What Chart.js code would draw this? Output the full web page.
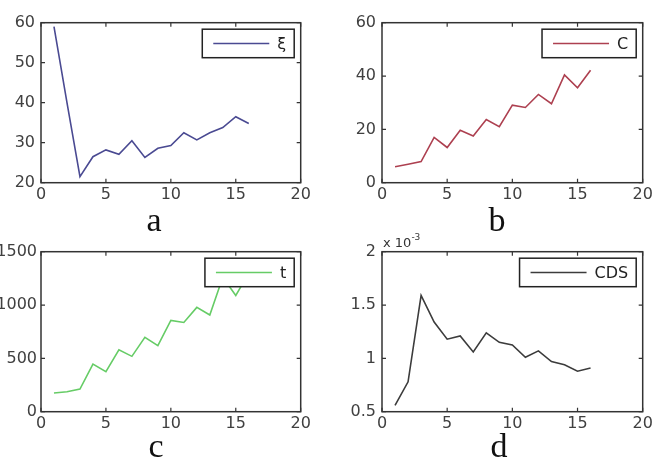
<!DOCTYPE html>
<html>
<head>
<meta charset="utf-8">
<script src="https://cdn.jsdelivr.net/npm/chart.js@4.4.0/dist/chart.umd.min.js"></script>
<style>
html,body{margin:0;padding:0;background:#fff;}
#wrap{position:relative;width:662px;height:458px;overflow:hidden;background:#fff;}
.pane{position:absolute;width:331px;height:229px;}
.pane canvas{display:block;}
.sub{position:absolute;font-family:"Liberation Serif","Times New Roman",serif;font-size:34px;line-height:34px;color:#111;transform:translateX(-50%);white-space:nowrap;}
.exp{position:absolute;font-family:"DejaVu Sans",sans-serif;font-size:13px;line-height:13px;color:#333;white-space:nowrap;}
.exp sup{font-size:9px;position:relative;top:-2px;}
</style>
</head>
<body>
<div id="wrap">
  <div class="pane" style="left:0;top:0"><canvas id="chartA" width="331" height="229"></canvas></div>
  <div class="pane" style="left:331px;top:0"><canvas id="chartB" width="331" height="229"></canvas></div>
  <div class="pane" style="left:0;top:229px"><canvas id="chartC" width="331" height="229"></canvas></div>
  <div class="pane" style="left:331px;top:229px"><canvas id="chartD" width="331" height="229"></canvas></div>
  <div class="sub" style="left:154px;top:203px">a</div>
  <div class="sub" style="left:497px;top:203px">b</div>
  <div class="sub" style="left:156px;top:429px">c</div>
  <div class="sub" style="left:499px;top:429px">d</div>
  <div class="exp" style="left:383px;top:233px">x 10<sup>-3</sup></div>
</div>
<script>
// ---- data ----
const iterations = [1, 2, 3, 4, 5, 6, 7, 8, 9, 10, 11, 12, 13, 14, 15, 16];
const xiValues  = [59, 40, 21.5, 26.5, 28.2, 27.1, 30.5, 26.3, 28.6, 29.3, 32.5, 30.7, 32.5, 33.8, 36.5, 34.8];
const cValues   = [6, 6.9, 7.9, 17, 13.2, 19.7, 17.5, 23.7, 21, 29.1, 28.2, 33.1, 29.6, 40.4, 35.6, 42.2];
const tValues   = [175, 187, 212, 447, 375, 581, 519, 697, 619, 856, 837, 978, 906, 1260, 1090, 1300];
const cdsValues = [0.56, 0.78, 1.59, 1.34, 1.18, 1.21, 1.06, 1.24, 1.15, 1.125, 1.01, 1.07, 0.97, 0.94, 0.88, 0.91]; // in units of 10^-3

const xTicks   = [0, 5, 10, 15, 20];
const xiTicks  = [20, 30, 40, 50, 60];
const cTicks   = [0, 20, 40, 60];
const tTicks   = [0, 500, 1000, 1500];
const cdsTicks = [0.5, 1, 1.5, 2];

// ---- drawing ----
const tickFont = {family: '"DejaVu Sans", sans-serif', size: 16};
const tickColor = '#404040';

const framePlugin = {
  id: 'frame',
  afterDraw(chart) {
    const {ctx, chartArea: a, scales: {x, y}} = chart;
    ctx.save();
    ctx.strokeStyle = '#333';
    ctx.lineWidth = 1.5;
    ctx.strokeRect(a.left, a.top, a.width, a.height);
    ctx.lineWidth = 1.2;
    ctx.beginPath();
    const tl = 4;
    x.ticks.forEach(t => {
      const px = x.getPixelForValue(t.value);
      ctx.moveTo(px, a.bottom); ctx.lineTo(px, a.bottom - tl);
      ctx.moveTo(px, a.top); ctx.lineTo(px, a.top + tl);
    });
    y.ticks.forEach(t => {
      const py = y.getPixelForValue(t.value);
      ctx.moveTo(a.left, py); ctx.lineTo(a.left + tl, py);
      ctx.moveTo(a.right, py); ctx.lineTo(a.right - tl, py);
    });
    ctx.stroke();

    // boxed legend in the upper right of the plot area
    const ds = chart.data.datasets[0];
    ctx.font = '16px "DejaVu Sans", sans-serif';
    const tw = ctx.measureText(ds.label).width;
    const padL = 11, lineLen = 56, gap = 8, padR = 8, h = 28.5;
    const w = padL + lineLen + gap + tw + padR;
    const bx = a.right - 6.5 - w, by = a.top + 6.5;
    ctx.fillStyle = '#fff';
    ctx.fillRect(bx, by, w, h);
    ctx.strokeStyle = '#222';
    ctx.lineWidth = 1.5;
    ctx.strokeRect(bx, by, w, h);
    const my = by + h / 2;
    ctx.strokeStyle = ds.borderColor;
    ctx.lineWidth = 1.6;
    ctx.beginPath();
    ctx.moveTo(bx + padL, my); ctx.lineTo(bx + padL + lineLen, my);
    ctx.stroke();
    ctx.fillStyle = '#222';
    ctx.textBaseline = 'middle';
    ctx.textAlign = 'left';
    ctx.fillText(ds.label, bx + padL + lineLen + gap, my + 1);
    ctx.restore();
  }
};

function makeChart(id, label, values, color, yTicks, yAxisWidth, rightPad, yPad) {
  const points = iterations.map((x, i) => ({x: x, y: values[i]}));
  return new Chart(document.getElementById(id), {
    type: 'line',
    data: {datasets: [{
      label: label, data: points, borderColor: color, backgroundColor: color,
      borderWidth: 1.6, pointRadius: 0, tension: 0, fill: false
    }]},
    options: {
      responsive: false, animation: false, devicePixelRatio: 1,
      layout: {padding: {left: 0, top: 22.7, right: rightPad, bottom: 0}},
      plugins: {legend: {display: false}, tooltip: {enabled: false}},
      scales: {
        x: {
          type: 'linear', min: xTicks[0], max: xTicks[xTicks.length - 1],
          afterBuildTicks: s => { s.ticks = xTicks.map(v => ({value: v})); },
          afterFit: s => { s.height = 46.3; },
          grid: {display: false, drawTicks: false},
          border: {display: false},
          ticks: {font: tickFont, color: tickColor, padding: 3, maxRotation: 0, autoSkip: false, callback: v => String(v)}
        },
        y: {
          type: 'linear', min: yTicks[0], max: yTicks[yTicks.length - 1],
          afterBuildTicks: s => { s.ticks = yTicks.map(v => ({value: v})); },
          afterFit: s => { s.width = yAxisWidth; },
          grid: {display: false, drawTicks: false},
          border: {display: false},
          ticks: {font: tickFont, color: tickColor, padding: yPad, autoSkip: false, callback: v => String(v)}
        }
      }
    },
    plugins: [framePlugin]
  });
}

makeChart('chartA', 'ξ',   xiValues,  '#4a4a92', xiTicks,  41, 30.3, 6);
makeChart('chartB', 'C',   cValues,   '#ad4050', cTicks,   51, 19.3, 6);
makeChart('chartC', 't',   tValues,   '#66cc66', tTicks,   41, 30.3, 4);
makeChart('chartD', 'CDS', cdsValues, '#3c3c3c', cdsTicks, 51, 19.3, 6);
</script>
</body>
</html>
